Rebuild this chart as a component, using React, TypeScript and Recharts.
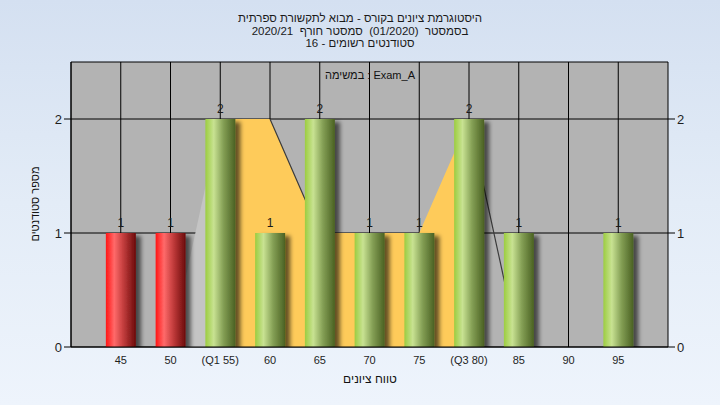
import React from "react";
import {
  ComposedChart,
  Bar,
  Area,
  XAxis,
  YAxis,
  CartesianGrid,
  LabelList,
} from "recharts";

const grades = [45, 50, 55, 60, 65, 70, 75, 80, 85, 90, 95];
const gradeLabels = ["45", "50", "(Q1 55)", "60", "65", "70", "75", "(Q3 80)", "85", "90", "95"];
const counts = [1, 1, 2, 1, 2, 1, 1, 2, 1, 0, 1];
// yellow band between the quartiles
const quartileBand = [null, null, 2, 2, 1, 1, 1, 2, null, null, null];
const bandLeadIn = [null, 0, 2, null, null, null, null, null, null, null, null];
const bandEdge = [null, null, null, 2, 1, null, null, 2, 0, null, null];
const failBelow = 55;

const yTicks = [0, 1, 2];

const titleLines = [
  "היסטוגרמת ציונים בקורס - מבוא לתקשורת ספרתית",
  "בסמסטר  (01/2020)  סמסטר חורף  2020/21",
  "סטודנטים רשומים - 16",
];

const data = grades.map((g, i) => ({
  grade: g,
  count: counts[i],
  band: quartileBand[i],
  leadIn: bandLeadIn[i],
  edge: bandEdge[i],
}));

const font = '"Liberation Sans", "DejaVu Sans", Arial, sans-serif';
const tick = { fontSize: 11, fill: "#1e1e1e" };

const BarShape = (p: any) => {
  if (!p.height || p.height <= 0) return null;
  const red = p.payload.grade < failBelow;
  return (
    <rect
      x={p.x}
      y={p.y}
      width={p.width}
      height={p.height}
      fill={red ? "url(#redCyl)" : "url(#greenCyl)"}
      filter="url(#barShadow)"
    />
  );
};

export default function App() {
  return (
    <div
      style={{
        position: "absolute",
        left: 0,
        top: 0,
        width: 720,
        height: 405,
        background: "linear-gradient(180deg, #d4e0f1 0%, #e3ecf7 50%, #eef4fc 100%)",
        fontFamily: font,
        color: "#1a1a1a",
      }}
    >
      <div style={{ position: "absolute", left: 0, top: 12, width: 720, textAlign: "center", fontSize: 11.5, lineHeight: "12.5px" }}>
        {titleLines.map((t) => (
          <div key={t} dir="rtl" style={{ whiteSpace: "pre" }}>
            {t}
          </div>
        ))}
      </div>
      <ComposedChart
        width={720}
        height={405}
        data={data}
        margin={{ top: 62, right: 20, left: 20, bottom: 28 }}
      >
        <defs>
          <linearGradient id="redCyl" x1="0" y1="0" x2="1" y2="0">
            <stop offset="0%" stopColor="#ff1414" />
            <stop offset="28%" stopColor="#ff6a6a" />
            <stop offset="60%" stopColor="#bf3a3a" />
            <stop offset="100%" stopColor="#6a0c0c" />
          </linearGradient>
          <linearGradient id="greenCyl" x1="0" y1="0" x2="1" y2="0">
            <stop offset="0%" stopColor="#9ccd40" />
            <stop offset="28%" stopColor="#c8e292" />
            <stop offset="60%" stopColor="#849f55" />
            <stop offset="100%" stopColor="#4a6122" />
          </linearGradient>
          <filter id="barShadow" x="-30%" y="-10%" width="170%" height="130%">
            <feDropShadow dx="5" dy="3" stdDeviation="2.2" floodColor="#000" floodOpacity="0.6" />
          </filter>
        </defs>
        <CartesianGrid yAxisId="l" stroke="#000" fill="#b3b3b3" strokeWidth={1} />
        <XAxis
          dataKey="grade"
          type="number"
          domain={[40, 100]}
          ticks={grades}
          tickFormatter={(v) => gradeLabels[grades.indexOf(v)] ?? String(v)}
          tick={tick}
          tickLine={false}
          tickSize={0}
          tickMargin={9}
          axisLine={{ stroke: "#000" }}
          height={30}
          interval={0}
        />
        <YAxis
          yAxisId="l"
          domain={[0, 2.5]}
          ticks={yTicks}
          tick={{ ...tick, fontSize: 13 }}
          tickLine={{ stroke: "#000" }}
          tickSize={7}
          axisLine={{ stroke: "#000" }}
          width={51}
          allowDataOverflow
        />
        <YAxis
          yAxisId="r"
          orientation="right"
          domain={[0, 2.5]}
          ticks={yTicks}
          tick={{ ...tick, fontSize: 13 }}
          tickLine={{ stroke: "#000" }}
          tickSize={7}
          axisLine={false}
          width={32}
          allowDataOverflow
        />
        <Area
          yAxisId="l"
          dataKey="leadIn"
          type="linear"
          fill="#c4c4c4"
          fillOpacity={1}
          stroke="none"
          isAnimationActive={false}
        />
        <Area
          yAxisId="l"
          dataKey="band"
          type="linear"
          fill="#fecb5a"
          fillOpacity={1}
          stroke="none"
          isAnimationActive={false}
        />
        <Area
          yAxisId="l"
          dataKey="edge"
          type="linear"
          fill="none"
          fillOpacity={0}
          stroke="#3c3c3c"
          strokeWidth={1.2}
          dot={false}
          activeDot={false}
          isAnimationActive={false}
        />
        <Bar yAxisId="l" dataKey="count" barSize={30} shape={BarShape} isAnimationActive={false}>
          <LabelList
            dataKey="count"
            position="top"
            offset={6}
            fill="#1a1a1a"
            fontSize={12}
            formatter={(v: any) => (v ? v : "")}
          />
        </Bar>
      </ComposedChart>
      <div style={{ position: "absolute", left: 270, width: 200, top: 69, textAlign: "center", fontSize: 11, color: "#111" }}>
        במשימה : Exam_A
      </div>
      <div style={{ position: "absolute", left: 270, width: 200, top: 372, textAlign: "center", fontSize: 12, color: "#111" }} dir="rtl">
        טווח ציונים
      </div>
      <div
        style={{
          position: "absolute",
          left: 35,
          top: 204,
          width: 120,
          marginLeft: -60,
          marginTop: -7,
          textAlign: "center",
          fontSize: 11,
          lineHeight: "14px",
          transform: "rotate(-90deg)",
          color: "#111",
        }}
        dir="rtl"
      >
        מספר סטודנטים
      </div>
    </div>
  );
}
